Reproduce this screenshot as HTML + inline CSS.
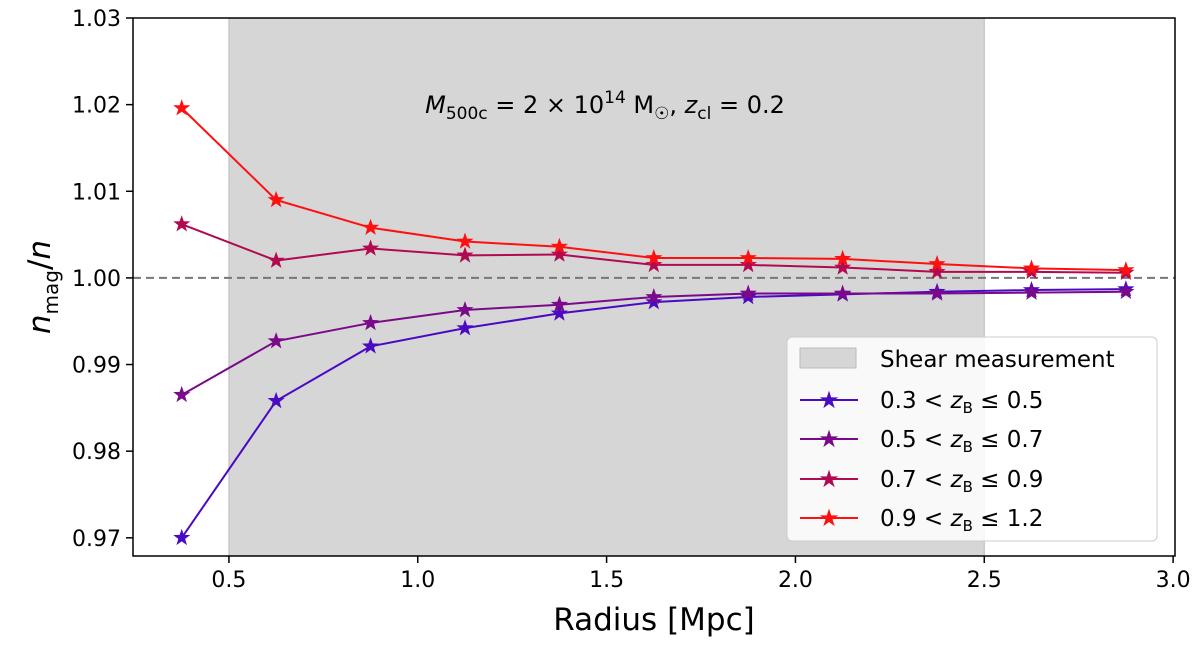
<!DOCTYPE html>
<html><head><meta charset="utf-8"><style>
body{margin:0;background:#fff}
svg text{font-family:"DejaVu Sans","Liberation Sans",sans-serif;fill:#000}
</style></head><body>
<svg id="chart" width="1200" height="646"></svg>
<script>
const radii=[0.375,0.625,0.875,1.125,1.375,1.625,1.875,2.125,2.375,2.625,2.875];
const s1=[0.9700,0.9858,0.9921,0.9942,0.9959,0.9972,0.9978,0.9981,0.9984,0.9986,0.9987];
const s2=[0.9865,0.9927,0.9948,0.9963,0.9969,0.9978,0.9982,0.9982,0.9982,0.9983,0.9984];
const s3=[1.0062,1.0020,1.0034,1.0026,1.0027,1.0015,1.0015,1.0012,1.0007,1.0007,1.0006];
const s4=[1.0196,1.0090,1.0058,1.0042,1.0036,1.0023,1.0023,1.0022,1.0016,1.0011,1.0009];
const xTicks=[0.5,1.0,1.5,2.0,2.5,3.0];
const yTicks=[0.97,0.98,0.99,1.00,1.01,1.02,1.03];
const colors=["#4a0ac4","#7a0a8a","#b20a50","#ff1010"];
const L=133,R=1175,T=18,B=556,x0=0.246,x1=3.005,y0=0.9679,y1=1.03;
const X=v=>L+(v-x0)/(x1-x0)*(R-L), Y=v=>B-(v-y0)/(y1-y0)*(B-T);
const svg=document.getElementById('chart'),NS="http://www.w3.org/2000/svg";
function mk(t,a,p){const e=document.createElementNS(NS,t);for(const k in a)e.setAttribute(k,a[k]);(p||svg).appendChild(e);return e;}
let e=mk('rect',{x:X(0.5),y:T,width:X(2.5)-X(0.5),height:B-T,fill:'#d6d6d6',stroke:'#bbb'});

e=mk('line',{x1:L,x2:R,y1:Y(1),y2:Y(1),stroke:'#777','stroke-width':2,'stroke-dasharray':'8,5'});

function star(cx,cy,r,c,g){let p=[];for(let i=0;i<10;i++){const rr=i%2?r*0.4:r,a=-Math.PI/2+i*Math.PI/5;p.push((cx+rr*Math.cos(a)).toFixed(1)+','+(cy+rr*Math.sin(a)).toFixed(1));}return mk('polygon',{points:p.join(' '),fill:c},g);}
[s1,s2,s3,s4].forEach((s,i)=>{
 const g=mk('g',{});
 mk('polyline',{points:radii.map((r,j)=>X(r)+','+Y(s[j])).join(' '),fill:'none',stroke:colors[i],'stroke-width':2},g);
 radii.forEach((r,j)=>{const st=star(X(r),Y(s[j]),9,colors[i],g);});
});
e=mk('rect',{x:L,y:T,width:R-L,height:B-T,fill:'none',stroke:'#000','stroke-width':1.5});

xTicks.forEach(v=>{mk('line',{x1:X(v),x2:X(v),y1:B,y2:B+7,stroke:'#000','stroke-width':1.5});
 const t=mk('text',{x:X(v),y:B+31,'font-size':22,'text-anchor':'middle'});t.textContent=v.toFixed(1);
 });
yTicks.forEach(v=>{mk('line',{x1:L-7,x2:L,y1:Y(v),y2:Y(v),stroke:'#000','stroke-width':1.5});
 const t=mk('text',{x:L-12,y:Y(v)+8,'font-size':22,'text-anchor':'end'});t.textContent=v.toFixed(2);
 });
</script>
<svg width="1200" height="646" style="position:absolute;left:0;top:0">
<text x="654" y="630" font-size="31" text-anchor="middle">Radius [Mpc]</text>
<text transform="translate(50,287) rotate(-90)" font-size="31" text-anchor="middle"><tspan font-style="italic">n</tspan><tspan font-size="20" dy="8">mag</tspan><tspan dy="-8">/</tspan><tspan font-style="italic">n</tspan></text>
<text x="605" y="113" font-size="24" text-anchor="middle"><tspan font-style="italic">M</tspan><tspan font-size="17" dy="6">500c</tspan><tspan dy="-6"> = 2 × 10</tspan><tspan font-size="17" dy="-10">14</tspan><tspan dy="10"> M</tspan><tspan font-size="17" dy="6">☉</tspan><tspan dy="-6">,  </tspan><tspan font-style="italic">z</tspan><tspan font-size="17" dy="6">cl</tspan><tspan dy="-6"> = 0.2</tspan></text>
<g>
<rect x="787" y="337" width="370" height="204" rx="5" fill="#fff" fill-opacity="0.85" stroke="#ccc"/>
<rect x="800" y="348" width="56" height="20" fill="#d6d6d6" stroke="#bbb"/>
<text x="880" y="367" font-size="23">Shear measurement</text>
<g><line x1="800" x2="858" y1="400" y2="400" stroke="#4a0ac4" stroke-width="2"/><text x="829" y="408" font-size="24" text-anchor="middle" style="fill:#4a0ac4">★</text><text x="880" y="408" font-size="23">0.3 &lt; <tspan font-style="italic">z</tspan><tspan font-size="15" dy="5">B</tspan><tspan dy="-5"> ≤ 0.5</tspan></text></g>
<g><line x1="800" x2="858" y1="439" y2="439" stroke="#7a0a8a" stroke-width="2"/><text x="829" y="447" font-size="24" text-anchor="middle" style="fill:#7a0a8a">★</text><text x="880" y="447" font-size="23">0.5 &lt; <tspan font-style="italic">z</tspan><tspan font-size="15" dy="5">B</tspan><tspan dy="-5"> ≤ 0.7</tspan></text></g>
<g><line x1="800" x2="858" y1="479" y2="479" stroke="#b20a50" stroke-width="2"/><text x="829" y="487" font-size="24" text-anchor="middle" style="fill:#b20a50">★</text><text x="880" y="487" font-size="23">0.7 &lt; <tspan font-style="italic">z</tspan><tspan font-size="15" dy="5">B</tspan><tspan dy="-5"> ≤ 0.9</tspan></text></g>
<g><line x1="800" x2="858" y1="518" y2="518" stroke="#ff1010" stroke-width="2"/><text x="829" y="526" font-size="24" text-anchor="middle" style="fill:#ff1010">★</text><text x="880" y="526" font-size="23">0.9 &lt; <tspan font-style="italic">z</tspan><tspan font-size="15" dy="5">B</tspan><tspan dy="-5"> ≤ 1.2</tspan></text></g>
</g>
</svg>
</body></html>
